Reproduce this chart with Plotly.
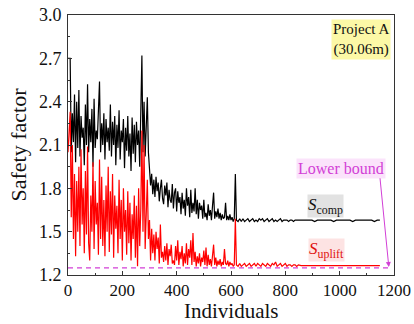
import plotly.graph_objects as go

# ---- sampled individuals -------------------------------------------------
idx_dense = list(range(0, 617, 4))      # 0 .. 616
idx_mid = list(range(620, 849, 6))      # 620 .. 848
idx_tail = list(range(858, 1149, 10))   # 858 .. 1148

# ---- compression safety factor S_comp -------------------------------------
comp_dense = [
    2.70, 2.70, 2.70, 2.05, 2.32, 2.12, 2.45, 1.98, 2.40, 2.08,
    2.48, 2.02, 2.30, 2.15, 2.22, 1.96, 2.38, 2.10, 2.52, 2.05,
    2.28, 2.12, 2.35, 1.95, 2.42, 2.08, 2.20, 2.14, 2.30, 2.54,
    2.05, 2.25, 2.10, 2.32, 2.00, 2.28, 2.12, 2.22, 2.06, 2.38,
    2.02, 2.26, 2.10, 2.30, 1.96, 2.24, 2.08, 2.34, 2.00, 2.20,
    2.12, 2.28, 1.94, 2.22, 2.06, 2.30, 2.02, 2.18, 1.92, 2.29,
    2.04, 2.24, 1.98, 2.26, 2.10, 2.20, 1.95, 2.25, 2.72, 2.05,
    2.40, 2.02, 2.30, 2.43, 2.05, 1.93, 1.82, 1.90, 1.76, 1.86,
    1.74, 1.88, 1.78, 1.84, 1.71, 1.80, 1.86, 1.73, 1.69, 1.82,
    1.75, 1.84, 1.67, 1.79, 1.72, 1.70, 1.83, 1.66, 1.77, 1.80,
    1.64, 1.78, 1.70, 1.74, 1.62, 1.77, 1.66, 1.72, 1.61, 1.80,
    1.68, 1.74, 1.60, 1.79, 1.63, 1.70, 1.64, 1.80, 1.62, 1.72,
    1.59, 1.70, 1.65, 1.68, 1.59, 1.72, 1.60, 1.63, 1.58, 1.69,
    1.61, 1.65, 1.58, 1.68, 1.77, 1.59, 1.64, 1.60, 1.66, 1.59,
    1.63, 1.58, 1.62, 1.59, 1.60, 1.70, 1.58, 1.61, 1.58, 1.62,
    1.58, 1.60, 1.57, 1.59, 1.90,
]
comp_mid = [
    1.58, 1.57, 1.59, 1.57, 1.59, 1.57, 1.58, 1.59, 1.57, 1.58,
    1.59, 1.57, 1.58, 1.57, 1.59, 1.58, 1.59, 1.57, 1.58, 1.59,
    1.57, 1.58, 1.59, 1.57, 1.58, 1.57, 1.58, 1.59, 1.57, 1.58,
    1.58, 1.58, 1.57, 1.58, 1.58, 1.57, 1.58, 1.58, 1.58,
]
comp_tail = [
    1.58, 1.58, 1.58, 1.58, 1.58, 1.57, 1.58, 1.58, 1.58, 1.58,
    1.58, 1.58, 1.57, 1.58, 1.58, 1.58, 1.58, 1.58, 1.58, 1.57,
    1.58, 1.58, 1.58, 1.58, 1.58, 1.58, 1.58, 1.57, 1.58, 1.58,
]

# ---- uplift safety factor S_uplift ----------------------------------------
uplift_dense = [
    2.05, 2.20, 2.33, 1.60, 2.10, 1.45, 1.90, 1.33, 1.85, 1.50,
    1.95, 1.40, 2.07, 1.55, 1.80, 1.35, 1.92, 1.48, 2.09, 1.42,
    1.30, 1.75, 1.50, 1.98, 1.38, 1.85, 1.55, 1.70, 1.34, 2.00,
    1.45, 1.88, 1.40, 1.72, 1.33, 1.82, 1.50, 1.95, 1.36, 1.78,
    1.48, 1.90, 1.32, 1.75, 1.52, 1.68, 1.35, 1.86, 1.45, 1.72,
    1.30, 1.80, 1.50, 1.65, 1.34, 1.78, 1.42, 1.70, 1.30, 1.62,
    1.45, 1.75, 1.32, 1.68, 1.26, 1.80, 1.40, 1.66, 2.20, 1.50,
    2.10, 1.38, 1.70, 1.86, 1.45, 1.58, 1.30, 1.52, 1.35, 1.48,
    1.30, 1.50, 1.38, 1.46, 1.28, 1.55, 1.32, 1.36, 1.29, 1.40,
    1.30, 1.42, 1.27, 1.38, 1.33, 1.41, 1.28, 1.30, 1.27, 1.40,
    1.30, 1.44, 1.27, 1.36, 1.31, 1.40, 1.26, 1.35, 1.28, 1.42,
    1.27, 1.38, 1.32, 1.44, 1.27, 1.49, 1.29, 1.36, 1.26, 1.33,
    1.28, 1.35, 1.26, 1.32, 1.29, 1.37, 1.27, 1.39, 1.26, 1.34,
    1.27, 1.31, 1.26, 1.33, 1.41, 1.27, 1.32, 1.26, 1.30, 1.27,
    1.31, 1.26, 1.29, 1.27, 1.38, 1.28, 1.27, 1.30, 1.26, 1.29,
    1.27, 1.28, 1.26, 1.27, 1.59,
]
uplift_mid = [
    1.27, 1.26, 1.28, 1.26, 1.27, 1.28, 1.26, 1.27, 1.28, 1.26,
    1.27, 1.28, 1.26, 1.28, 1.27, 1.26, 1.28, 1.27, 1.26, 1.28,
    1.27, 1.26, 1.28, 1.27, 1.29, 1.26, 1.27, 1.28, 1.26, 1.27,
    1.28, 1.26, 1.27, 1.27, 1.26, 1.27, 1.27, 1.26, 1.27,
]
uplift_tail = [
    1.265, 1.265, 1.265, 1.265, 1.265, 1.265, 1.265, 1.265, 1.265, 1.265,
    1.265, 1.265, 1.265, 1.265, 1.265, 1.265, 1.265, 1.265, 1.265, 1.265,
    1.265, 1.265, 1.265, 1.265, 1.265, 1.265, 1.265, 1.265, 1.265, 1.265,
]

# ---- lower bound ----------------------------------------------------------
bound_x = [0, 1185]
bound_y = [1.25, 1.25]

x_ticks = [0, 200, 400, 600, 800, 1000, 1200]
y_ticks = [1.2, 1.5, 1.8, 2.1, 2.4, 2.7, 3.0]
y_tick_text = ["1.2", "1.5", "1.8", "2.1", "2.4", "2.7", "3.0"]

individuals = idx_dense + idx_mid + idx_tail
s_comp = comp_dense + comp_mid + comp_tail
s_uplift = uplift_dense + uplift_mid + uplift_tail

SERIF = "Liberation Serif"
MAGENTA = "#d23fd6"

fig = go.Figure()
fig.add_trace(go.Scatter(x=bound_x, y=bound_y, mode="lines",
                         line=dict(color=MAGENTA, width=1.3, dash="5px,4px"),
                         hoverinfo="skip"))
fig.add_trace(go.Scatter(x=individuals, y=s_comp, mode="lines",
                         line=dict(color="#000000", width=1.2)))
fig.add_trace(go.Scatter(x=individuals, y=s_uplift, mode="lines",
                         line=dict(color="#ff0000", width=1.2)))

axis_common = dict(
    showline=True, linecolor="#333333", linewidth=1, mirror=True,
    showgrid=False, zeroline=False, ticks="inside", ticklen=4,
    tickcolor="#333333", automargin=False,
    tickfont=dict(family=SERIF, size=18, color="#111111"),
)

fig.update_xaxes(range=[0, 1200], tickvals=x_ticks, ticklabelstandoff=0,
                 minor=dict(ticks="inside", ticklen=2, dtick=100, tick0=0,
                            tickcolor="#333333"),
                 **axis_common)
fig.update_xaxes(tickfont=dict(size=17))
fig.update_yaxes(range=[1.2, 3.0], tickvals=y_ticks, ticktext=y_tick_text,
                 ticklabelstandoff=2,
                 minor=dict(ticks="inside", ticklen=2, dtick=0.15, tick0=1.2,
                            tickcolor="#333333"),
                 title=dict(text="Safety factor", standoff=6,
                            font=dict(family=SERIF, size=22, color="#111111")),
                 **axis_common)

annotations = [
    # x-axis title, set just below the tick labels
    dict(x=0.5, y=-0.1385, xref="paper", yref="paper", xanchor="center",
         yanchor="middle", text="Individuals", showarrow=False,
         font=dict(family=SERIF, size=21, color="#111111")),
    dict(x=1190, y=2.97, xref="x", yref="y", xanchor="right", yanchor="top",
         text="Project A<br>(30.06m)", showarrow=False, align="center",
         bgcolor="#fcf8a6", borderpad=1,
         font=dict(family=SERIF, size=15, color="#111111")),
    dict(x=1005, y=1.94, xref="x", yref="y", xanchor="center", yanchor="middle",
         text="Lower bound", showarrow=False, bgcolor="#fbe3fb", borderpad=1,
         font=dict(family=SERIF, size=16, color=MAGENTA)),
    dict(x=1181, y=1.255, ax=1148, ay=1.88, xref="x", yref="y",
         axref="x", ayref="y", text="", showarrow=True, arrowhead=2,
         arrowsize=1, arrowwidth=1, arrowcolor=MAGENTA),
    dict(x=946, y=1.68, xref="x", yref="y", xanchor="center", yanchor="middle",
         text="<i>S</i><sub>comp</sub>", showarrow=False, bgcolor="#e2e2e2",
         borderpad=0, font=dict(family=SERIF, size=17, color="#111111")),
    dict(x=953, y=1.37, xref="x", yref="y", xanchor="center", yanchor="middle",
         text="<i>S</i><sub>uplift</sub>", showarrow=False, bgcolor="#fde3e3",
         borderpad=0, font=dict(family=SERIF, size=17, color="#e01010")),
]

fig.update_layout(
    width=414, height=324,
    margin=dict(l=68, r=20, t=15, b=49),
    paper_bgcolor="white", plot_bgcolor="white",
    font=dict(family=SERIF, color="#111111"),
    showlegend=False, annotations=annotations,
)

fig.write_html("out.html")
